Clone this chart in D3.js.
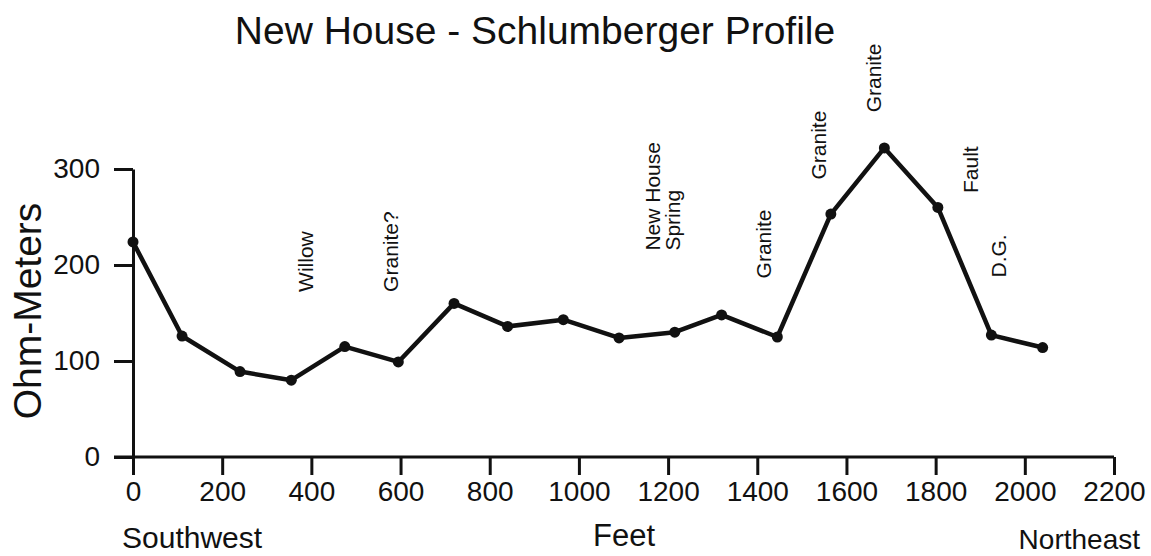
<!DOCTYPE html>
<html>
<head>
<meta charset="utf-8">
<script src="https://cdn.jsdelivr.net/npm/d3@7"></script>
<style>
  html, body { margin: 0; padding: 0; background: #fff; }
  svg { display: block; }
  text { font-family: "Liberation Sans", Arial, Helvetica, sans-serif; fill: #111; }
</style>
</head>
<body>
<svg id="chart" width="1151" height="556"></svg>
<script>
// Station positions along the traverse (feet) and apparent resistivity (ohm-m)
const feet = [0, 110, 240, 355, 475, 595, 720, 840, 965, 1090, 1215, 1320, 1445, 1565, 1685, 1805, 1925, 2040];
const ohm  = [224, 126, 89, 80, 115, 99, 160, 136, 143, 124, 130, 148, 125, 253, 322, 260, 127, 114];

// Axis ticks
const xTicks = [0, 200, 400, 600, 800, 1000, 1200, 1400, 1600, 1800, 2000, 2200];
const yTicks = [0, 100, 200, 300];

// Geologic notes: text lines, position along traverse, resistivity level of the text start
const noteText = [["Willow"], ["Granite?"], ["New House", "Spring"], ["Granite"], ["Granite"], ["Granite"], ["Fault"], ["D.G."]];
const noteFeet = [388, 578, 1188, 1414, 1538, 1661, 1878, 1941];
const noteOhm  = [172, 172, 215, 186, 289, 359, 275, 187];

const svg = d3.select("#chart");
const ink = "#111";

const x = d3.scaleLinear().domain([0, 2200]).range([133, 1114]);
const y = d3.scaleLinear().domain([0, 300]).range([457, 169]);

// Title
svg.append("text")
  .attr("x", 535).attr("y", 44)
  .attr("text-anchor", "middle")
  .attr("font-size", 39)
  .text("New House - Schlumberger Profile");

// Axes
const xAxis = svg.append("g")
  .attr("transform", `translate(0,${y(0)})`)
  .call(d3.axisBottom(x).tickValues(xTicks).tickSize(18).tickSizeOuter(0).tickPadding(6).tickFormat(d3.format("d")));
const yAxis = svg.append("g")
  .attr("transform", `translate(${x(0)},0)`)
  .call(d3.axisLeft(y).tickValues(yTicks).tickSize(19).tickSizeOuter(0).tickPadding(14).tickFormat(d3.format("d")));

[xAxis, yAxis].forEach(g => {
  g.select(".domain").attr("stroke", ink).attr("stroke-width", 3);
  g.selectAll(".tick line").attr("stroke", ink).attr("stroke-width", 3);
  g.selectAll(".tick text").attr("fill", ink).attr("font-size", 28)
    .attr("font-family", "'Liberation Sans', Arial, sans-serif");
});
// extend the x axis line left to meet the 0 tick of the y axis
xAxis.select(".domain").attr("d", `M${x(0) - 19},0H${x(2200)}`);

// Axis titles
svg.append("text")
  .attr("transform", `translate(41,${y(150) - 2}) rotate(-90)`)
  .attr("text-anchor", "middle")
  .attr("font-size", 39)
  .text("Ohm-Meters");
svg.append("text").attr("x", 624).attr("y", 546).attr("text-anchor", "middle").attr("font-size", 31).text("Feet");
svg.append("text").attr("x", 122).attr("y", 548).attr("font-size", 30).text("Southwest");
svg.append("text").attr("x", 1140).attr("y", 549).attr("text-anchor", "end").attr("font-size", 28).text("Northeast");

// Profile line and stations
const pts = feet.map((f, i) => [f, ohm[i]]);
svg.append("path")
  .datum(pts)
  .attr("fill", "none")
  .attr("stroke", ink)
  .attr("stroke-width", 4.5)
  .attr("stroke-linejoin", "round")
  .attr("d", d3.line().x(d => x(d[0])).y(d => y(d[1])));
svg.append("g").selectAll("circle")
  .data(pts).join("circle")
  .attr("cx", d => x(d[0])).attr("cy", d => y(d[1]))
  .attr("r", 5.5).attr("fill", ink);

// Vertical notes
const notes = svg.append("g");
noteText.forEach((lines, i) => {
  const g = notes.append("g")
    .attr("transform", `translate(${x(noteFeet[i])},${y(noteOhm[i])}) rotate(-90)`);
  const n = lines.length;
  lines.forEach((t, j) => {
    g.append("text")
      .attr("x", 0)
      .attr("y", (j - (n - 1) / 2) * 20)
      .attr("dy", "0.35em")
      .attr("font-size", 21)
      .text(t);
  });
});
</script>
</body>
</html>
